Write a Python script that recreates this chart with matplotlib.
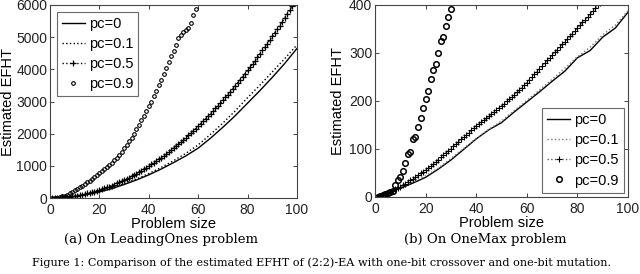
import matplotlib
matplotlib.use("Agg")
import matplotlib.pyplot as plt
import numpy as np

# ---------------- data ----------------
labels = ["pc=0", "pc=0.1", "pc=0.5", "pc=0.9"]

# (a) LeadingOnes
lo_n_line = [1, 5, 10, 15, 20, 25, 30, 35, 40, 45, 50, 55, 60, 65, 70, 75, 80, 85, 90, 95, 100]
lo_pc0 = [1, 12, 50, 110, 190, 290, 420, 560, 720, 900, 1100, 1310, 1550, 1860, 2200,
          2560, 2950, 3340, 3750, 4180, 4650]
lo_pc01 = [1, 13, 52, 115, 200, 305, 440, 590, 760, 950, 1160, 1390, 1650, 1980, 2330,
           2710, 3120, 3510, 3920, 4330, 4760]
lo_pc05 = [1, 3, 6, 10, 16, 22, 30, 40, 50, 62, 75, 89, 105, 122, 140, 159, 179, 201, 224, 248,
           273, 300, 328, 357, 388, 419, 452, 486, 521, 558, 596, 635, 675, 717, 760, 804, 849,
           895, 943, 992, 1042, 1094, 1146, 1200, 1256, 1312, 1370, 1428, 1489, 1550, 1613, 1676,
           1742, 1808, 1876, 1944, 2014, 2086, 2158, 2232, 2307, 2383, 2461, 2540, 2620, 2701,
           2783, 2867, 2952, 3038, 3125, 3214, 3304, 3395, 3488, 3581, 3676, 3772, 3869, 3968,
           4068, 4169, 4271, 4375, 4480, 4586, 4693, 4801, 4911, 5022, 5134, 5248, 5362, 5478,
           5596, 5714, 5834, 5954, 6077]
lo_pc09 = [3, 6, 15, 30, 50, 75, 105, 140, 190, 240, 285, 330, 380, 430, 485, 540, 595, 655,
           715, 775, 840, 900, 960, 1020, 1090, 1170, 1250, 1340, 1440, 1540, 1650, 1760, 1880,
           2000, 2130, 2270, 2410, 2560, 2710, 2860, 3000, 3170, 3340, 3520, 3680, 3860, 4040,
           4220, 4400, 4580, 4760, 4960, 5080, 5150, 5210, 5300, 5450, 5700, 5880]

# (b) OneMax
om_n_line = [1, 5, 10, 15, 20, 25, 30, 35, 40, 45, 50, 55, 60, 65, 70, 75, 80, 85, 90, 95, 100]
om_pc0 = [1, 8, 18, 29, 41, 58, 77, 99, 121, 140, 155, 177, 198, 219, 241, 262, 290, 305,
          333, 352, 385]
om_pc01 = [1, 9, 19, 31, 44, 60, 80, 101, 122, 141, 158, 180, 201, 223, 245, 268, 292, 312,
           338, 358, 388]
om_pc05 = [1, 2.5, 4.5, 7, 9, 11, 13.5, 16, 18.5, 21, 24, 27.5, 31, 34.5, 38, 41.5, 45, 49,
           52.5, 56, 60, 64.5, 69, 73.5, 78, 82.5, 87, 92, 96.5, 101, 106, 110.5, 115.5, 120,
           125, 129.5, 134, 139, 143.5, 148, 152, 156, 160, 164, 168, 172.5, 177, 181, 185.5,
           190, 194.5, 199, 204, 208.5, 213, 218, 223, 228, 233, 238, 244, 250, 255.5, 261,
           267, 273, 279, 284.5, 290, 296, 301.5, 307, 312.5, 318, 323, 329, 335, 340.5, 346,
           352, 358, 364, 369.5, 375, 381, 387, 393, 399, 405]
om_pc09 = [1, 3, 4, 6, 8, 10, 12, 25, 35, 42, 55, 70, 90, 93, 120, 126, 145, 165, 185, 205,
           220, 245, 265, 277, 300, 325, 333, 357, 374, 391]

caption_a = "(a) On LeadingOnes problem"
caption_b = "(b) On OneMax problem"
fig_caption = ("Figure 1: Comparison of the estimated EFHT of (2:2)-EA with one-bit "
               "crossover and one-bit mutation.")

# ---------------- plot ----------------
plt.rcParams['font.family'] = ['Liberation Sans', 'DejaVu Sans']
W, H = 640, 274
fig = plt.figure(figsize=(W / 100, H / 100), dpi=100)


def px_axes(x0, y0, x1, y1):
    return fig.add_axes([x0 / W, 1 - y1 / H, (x1 - x0) / W, (y1 - y0) / H])


def style(ax, ymax, ystep, ylab_x):
    ax.set_xlim(0, 100)
    ax.set_ylim(0, ymax)
    ax.set_xticks(np.arange(0, 101, 20))
    ax.set_yticks(np.arange(0, ymax + 1, ystep))
    ax.tick_params(direction='in', top=True, right=True, labelsize=10, length=3,
                   width=0.6, pad=3.5, colors='#222222')
    ax.tick_params(axis='y', pad=2)
    for s in ax.spines.values():
        s.set_linewidth(0.8)
        s.set_color('#444444')
    ax.set_xlabel("Problem size", fontsize=10.5, labelpad=0)
    ax.set_ylabel("Estimated EFHT", fontsize=10.5, va='center')
    ax.yaxis.set_label_coords(ylab_x, 0.5)


def legend(ax, loc, bap):
    leg = ax.legend(loc=loc, fontsize=10.5, frameon=True, fancybox=False,
                    handlelength=1.6, handletextpad=0.25, borderpad=0.35, labelspacing=0.42,
                    borderaxespad=bap)
    leg.get_frame().set_edgecolor('#444444')
    leg.get_frame().set_linewidth(0.8)
    return leg


# left
axL = px_axes(50, 5, 297, 198)
nL = np.arange(1, len(lo_pc05) + 1)
n9L = np.arange(1, len(lo_pc09) + 1)
axL.plot(lo_n_line, lo_pc0, '-', color='black', lw=1.0, label=labels[0])
axL.plot(lo_n_line, lo_pc01, ':', color='black', lw=1.0, label=labels[1])
axL.plot(nL, lo_pc05, ':', color='black', lw=1.0, marker='+', ms=4, mew=0.9, label=labels[2])
axL.plot(n9L, lo_pc09, 'o', color='black', ms=2.6, mfc='none', mew=0.8, lw=0, label=labels[3])
style(axL, 6000, 1000, (8 - 50) / 247)
legend(axL, 'upper left', 0.45)

# right
axR = px_axes(375, 5, 628, 197)
nR = np.arange(1, len(om_pc05) + 1)
n9R = np.arange(1, len(om_pc09) + 1)
axR.plot(om_n_line, om_pc0, '-', color='black', lw=1.0, label=labels[0])
axR.plot(om_n_line, om_pc01, ':', color='#777777', lw=1.0, label=labels[1])
axR.plot(nR, om_pc05, ':', color='#555555', lw=1.0, marker='+', ms=4, mew=0.8,
         mec='black', label=labels[2])
axR.plot(n9R, om_pc09, 'o', color='black', ms=4, mfc='none', mew=1.1, lw=0, label=labels[3])
style(axR, 400, 100, (338 - 375) / 253)
legend(axR, 'lower right', 0.3)

# captions
fig.text(161 / W, 1 - 240 / H, caption_a, ha='center', va='center', fontsize=9.5,
         family='DejaVu Serif')
fig.text(485 / W, 1 - 240 / H, caption_b, ha='center', va='center', fontsize=9.5,
         family='DejaVu Serif')
fig.text(321 / W, 1 - 263 / H, fig_caption, ha='center', va='center', fontsize=8.1,
         family='DejaVu Serif')

fig.savefig("out.png", dpi=100)
